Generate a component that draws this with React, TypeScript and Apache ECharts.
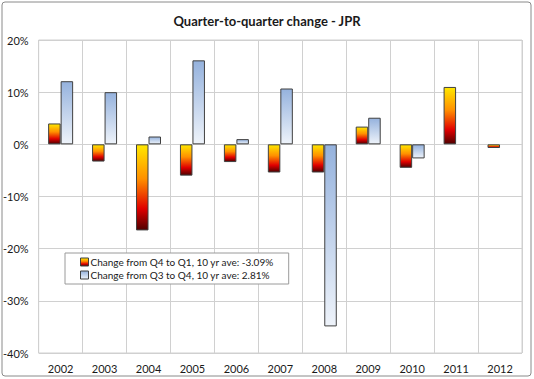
import React, { useEffect, useRef } from "react";
import * as echarts from "echarts";

const years = ["2002", "2003", "2004", "2005", "2006", "2007", "2008", "2009", "2010", "2011", "2012"];
const q4ToQ1 = [4.0, -3.3, -16.5, -6.0, -3.4, -5.4, -5.4, 3.4, -4.5, 11.0, -0.7];
const q3ToQ4: (number | null)[] = [12.1, 10.0, 1.5, 16.1, 1.0, 10.7, -34.9, 5.1, -2.7, null, null];
const seriesNames = [
  "Change from Q4 to Q1, 10 yr ave: -3.09%",
  "Change from Q3 to Q4, 10 yr ave: 2.81%",
];
const titleText = "Quarter-to-quarter change - JPR";

const FONT = "Lato, 'Open Sans', sans-serif";

export default function App() {
  const ref = useRef<HTMLDivElement>(null);
  useEffect(() => {
    if (!ref.current) return;
    const chart = echarts.init(ref.current, undefined, { renderer: "svg" });
    const orange = new echarts.graphic.LinearGradient(0, 0, 0, 1, [
      { offset: 0, color: "#FFE800" },
      { offset: 0.4, color: "#FF9000" },
      { offset: 0.75, color: "#E00000" },
      { offset: 1, color: "#500000" },
    ]);
    const blue = new echarts.graphic.LinearGradient(0, 0, 0, 1, [
      { offset: 0, color: "#95B2DD" },
      { offset: 1, color: "#EEF3FA" },
    ]);
    chart.setOption({
      animation: false,
      backgroundColor: "#ffffff",
      textStyle: { fontFamily: FONT },
      title: {
        text: titleText,
        left: "center",
        top: 9,
        textStyle: { fontSize: 13, fontWeight: "bold", color: "#1a1a1a", fontFamily: FONT },
      },
      graphic: [
        {
          type: "rect",
          shape: { x: 2, y: 2, width: 529, height: 374, r: 3 },
          style: { fill: "none", stroke: "#8a8a8a", lineWidth: 1 },
          silent: true,
          z: 100,
        },
      ],
      grid: {
        left: 36,
        right: 12,
        top: 40,
        bottom: 26,
        show: true,
        borderColor: "#d0d0d0",
        borderWidth: 1,
      },
      legend: {
        orient: "vertical",
        left: 65,
        top: 253,
        padding: [4, 15, 4, 15],
        itemGap: 3,
        itemWidth: 8,
        itemHeight: 8,
        icon: "rect",
        backgroundColor: "#ffffff",
        borderColor: "#9a9a9a",
        borderWidth: 1,
        textStyle: { fontSize: 10, color: "#1a1a1a", fontFamily: FONT, padding: [0, 0, 0, -3] },
        itemStyle: { borderColor: "#404040", borderWidth: 1 },
        data: seriesNames,
      },
      xAxis: {
        type: "category",
        data: years,
        position: "bottom",
        axisLine: { show: false },
        axisTick: { show: false },
        axisLabel: { color: "#1a1a1a", fontSize: 11, margin: 10, fontFamily: FONT },
        splitLine: { show: true, lineStyle: { color: "#d0d0d0", width: 1 } },
      },
      yAxis: {
        type: "value",
        min: -40,
        max: 20,
        interval: 10,
        axisLine: { show: false },
        axisTick: { show: false },
        axisLabel: { color: "#1a1a1a", fontSize: 11, margin: 10, formatter: "{value}%", fontFamily: FONT },
        splitLine: { show: true, lineStyle: { color: "#d0d0d0", width: 1 } },
      },
      series: [
        {
          name: seriesNames[0],
          type: "bar",
          data: q4ToQ1,
          barWidth: 12.5,
          barGap: "0%",
          itemStyle: { color: orange, borderColor: "#404040", borderWidth: 1 },
        },
        {
          name: seriesNames[1],
          type: "bar",
          data: q3ToQ4,
          barWidth: 12.5,
          barGap: "0%",
          itemStyle: { color: blue, borderColor: "#404040", borderWidth: 1 },
        },
      ],
    });
    return () => chart.dispose();
  }, []);
  return (
    <div
      ref={ref}
      style={{ position: "fixed", left: 0, top: 0, width: 534, height: 379 }}
    />
  );
}
